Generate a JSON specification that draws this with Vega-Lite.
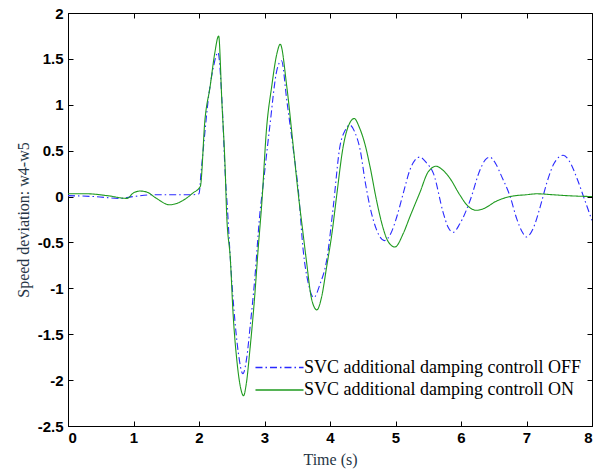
{
  "$schema": "https://vega.github.io/schema/vega-lite/v6.json",
  "width": 524,
  "height": 413,
  "autosize": {"type": "none"},
  "padding": {"left": 68, "top": 13, "right": 10, "bottom": 44},
  "background": "white",
  "config": {
    "view": {"stroke": "#000", "strokeWidth": 1},
    "axis": {
      "grid": false,
      "domainColor": "#000",
      "tickColor": "#000",
      "tickSize": -5,
      "labelFont": "Liberation Sans",
      "labelFontWeight": "bold",
      "labelFontSize": 15,
      "labelColor": "#000",
      "labelExpr": "datum.value",
      "titleFont": "Liberation Serif",
      "titleFontWeight": "normal",
      "titleFontSize": 16,
      "titleColor": "#263545"
    }
  },
  "datasets": {
    "curves": [
      {"t": 0, "v": 0.01, "s": "SVC additional damping controll OFF"},
      {"t": 0.4, "v": 0.0, "s": "SVC additional damping controll OFF"},
      {"t": 0.8, "v": -0.02, "s": "SVC additional damping controll OFF"},
      {"t": 1.0, "v": 0.0, "s": "SVC additional damping controll OFF"},
      {"t": 1.3, "v": 0.02, "s": "SVC additional damping controll OFF"},
      {"t": 1.6, "v": 0.02, "s": "SVC additional damping controll OFF"},
      {"t": 1.9, "v": 0.02, "s": "SVC additional damping controll OFF"},
      {"t": 2.0, "v": 0.03, "s": "SVC additional damping controll OFF"},
      {"t": 2.03, "v": 0.25, "s": "SVC additional damping controll OFF"},
      {"t": 2.09, "v": 0.7, "s": "SVC additional damping controll OFF"},
      {"t": 2.14, "v": 1.05, "s": "SVC additional damping controll OFF"},
      {"t": 2.22, "v": 1.41, "s": "SVC additional damping controll OFF"},
      {"t": 2.29, "v": 1.57, "s": "SVC additional damping controll OFF"},
      {"t": 2.35, "v": 1.05, "s": "SVC additional damping controll OFF"},
      {"t": 2.4, "v": 0.25, "s": "SVC additional damping controll OFF"},
      {"t": 2.44, "v": -0.2, "s": "SVC additional damping controll OFF"},
      {"t": 2.47, "v": -0.58, "s": "SVC additional damping controll OFF"},
      {"t": 2.53, "v": -1.2, "s": "SVC additional damping controll OFF"},
      {"t": 2.6, "v": -1.7, "s": "SVC additional damping controll OFF"},
      {"t": 2.67, "v": -1.93, "s": "SVC additional damping controll OFF"},
      {"t": 2.73, "v": -1.75, "s": "SVC additional damping controll OFF"},
      {"t": 2.78, "v": -1.42, "s": "SVC additional damping controll OFF"},
      {"t": 2.85, "v": -0.91, "s": "SVC additional damping controll OFF"},
      {"t": 2.93, "v": -0.18, "s": "SVC additional damping controll OFF"},
      {"t": 2.98, "v": 0.13, "s": "SVC additional damping controll OFF"},
      {"t": 3.08, "v": 0.76, "s": "SVC additional damping controll OFF"},
      {"t": 3.19, "v": 1.38, "s": "SVC additional damping controll OFF"},
      {"t": 3.26, "v": 1.48, "s": "SVC additional damping controll OFF"},
      {"t": 3.34, "v": 1.05, "s": "SVC additional damping controll OFF"},
      {"t": 3.44, "v": 0.51, "s": "SVC additional damping controll OFF"},
      {"t": 3.52, "v": 0.04, "s": "SVC additional damping controll OFF"},
      {"t": 3.59, "v": -0.58, "s": "SVC additional damping controll OFF"},
      {"t": 3.67, "v": -0.95, "s": "SVC additional damping controll OFF"},
      {"t": 3.75, "v": -1.1, "s": "SVC additional damping controll OFF"},
      {"t": 3.85, "v": -0.95, "s": "SVC additional damping controll OFF"},
      {"t": 3.95, "v": -0.69, "s": "SVC additional damping controll OFF"},
      {"t": 4.05, "v": -0.11, "s": "SVC additional damping controll OFF"},
      {"t": 4.15, "v": 0.54, "s": "SVC additional damping controll OFF"},
      {"t": 4.23, "v": 0.72, "s": "SVC additional damping controll OFF"},
      {"t": 4.3, "v": 0.78, "s": "SVC additional damping controll OFF"},
      {"t": 4.38, "v": 0.7, "s": "SVC additional damping controll OFF"},
      {"t": 4.46, "v": 0.51, "s": "SVC additional damping controll OFF"},
      {"t": 4.54, "v": 0.15, "s": "SVC additional damping controll OFF"},
      {"t": 4.61, "v": -0.11, "s": "SVC additional damping controll OFF"},
      {"t": 4.71, "v": -0.36, "s": "SVC additional damping controll OFF"},
      {"t": 4.83, "v": -0.48, "s": "SVC additional damping controll OFF"},
      {"t": 4.93, "v": -0.4, "s": "SVC additional damping controll OFF"},
      {"t": 5.02, "v": -0.22, "s": "SVC additional damping controll OFF"},
      {"t": 5.12, "v": 0.04, "s": "SVC additional damping controll OFF"},
      {"t": 5.22, "v": 0.29, "s": "SVC additional damping controll OFF"},
      {"t": 5.3, "v": 0.4, "s": "SVC additional damping controll OFF"},
      {"t": 5.37, "v": 0.43, "s": "SVC additional damping controll OFF"},
      {"t": 5.47, "v": 0.37, "s": "SVC additional damping controll OFF"},
      {"t": 5.58, "v": 0.25, "s": "SVC additional damping controll OFF"},
      {"t": 5.73, "v": -0.18, "s": "SVC additional damping controll OFF"},
      {"t": 5.8, "v": -0.33, "s": "SVC additional damping controll OFF"},
      {"t": 5.88, "v": -0.39, "s": "SVC additional damping controll OFF"},
      {"t": 5.98, "v": -0.3, "s": "SVC additional damping controll OFF"},
      {"t": 6.14, "v": -0.04, "s": "SVC additional damping controll OFF"},
      {"t": 6.29, "v": 0.29, "s": "SVC additional damping controll OFF"},
      {"t": 6.37, "v": 0.4, "s": "SVC additional damping controll OFF"},
      {"t": 6.44, "v": 0.43, "s": "SVC additional damping controll OFF"},
      {"t": 6.52, "v": 0.37, "s": "SVC additional damping controll OFF"},
      {"t": 6.62, "v": 0.22, "s": "SVC additional damping controll OFF"},
      {"t": 6.75, "v": 0.0, "s": "SVC additional damping controll OFF"},
      {"t": 6.85, "v": -0.24, "s": "SVC additional damping controll OFF"},
      {"t": 6.93, "v": -0.38, "s": "SVC additional damping controll OFF"},
      {"t": 7.0, "v": -0.44, "s": "SVC additional damping controll OFF"},
      {"t": 7.1, "v": -0.35, "s": "SVC additional damping controll OFF"},
      {"t": 7.21, "v": -0.11, "s": "SVC additional damping controll OFF"},
      {"t": 7.31, "v": 0.15, "s": "SVC additional damping controll OFF"},
      {"t": 7.42, "v": 0.36, "s": "SVC additional damping controll OFF"},
      {"t": 7.56, "v": 0.45, "s": "SVC additional damping controll OFF"},
      {"t": 7.66, "v": 0.38, "s": "SVC additional damping controll OFF"},
      {"t": 7.77, "v": 0.2, "s": "SVC additional damping controll OFF"},
      {"t": 7.89, "v": -0.04, "s": "SVC additional damping controll OFF"},
      {"t": 8.0, "v": -0.26, "s": "SVC additional damping controll OFF"},
      {"t": 0, "v": 0.03, "s": "SVC additional damping controll ON"},
      {"t": 0.3, "v": 0.03, "s": "SVC additional damping controll ON"},
      {"t": 0.6, "v": 0.01, "s": "SVC additional damping controll ON"},
      {"t": 0.9, "v": -0.02, "s": "SVC additional damping controll ON"},
      {"t": 1.0, "v": 0.04, "s": "SVC additional damping controll ON"},
      {"t": 1.1, "v": 0.06, "s": "SVC additional damping controll ON"},
      {"t": 1.2, "v": 0.05, "s": "SVC additional damping controll ON"},
      {"t": 1.35, "v": -0.02, "s": "SVC additional damping controll ON"},
      {"t": 1.55, "v": -0.09, "s": "SVC additional damping controll ON"},
      {"t": 1.71, "v": -0.06, "s": "SVC additional damping controll ON"},
      {"t": 1.91, "v": 0.04, "s": "SVC additional damping controll ON"},
      {"t": 2.02, "v": 0.11, "s": "SVC additional damping controll ON"},
      {"t": 2.09, "v": 0.83, "s": "SVC additional damping controll ON"},
      {"t": 2.17, "v": 1.2, "s": "SVC additional damping controll ON"},
      {"t": 2.24, "v": 1.56, "s": "SVC additional damping controll ON"},
      {"t": 2.3, "v": 1.75, "s": "SVC additional damping controll ON"},
      {"t": 2.35, "v": 1.02, "s": "SVC additional damping controll ON"},
      {"t": 2.4, "v": 0.29, "s": "SVC additional damping controll ON"},
      {"t": 2.42, "v": -0.15, "s": "SVC additional damping controll ON"},
      {"t": 2.48, "v": -0.7, "s": "SVC additional damping controll ON"},
      {"t": 2.52, "v": -1.27, "s": "SVC additional damping controll ON"},
      {"t": 2.58, "v": -1.8, "s": "SVC additional damping controll ON"},
      {"t": 2.64, "v": -2.1, "s": "SVC additional damping controll ON"},
      {"t": 2.68, "v": -2.17, "s": "SVC additional damping controll ON"},
      {"t": 2.72, "v": -2.05, "s": "SVC additional damping controll ON"},
      {"t": 2.78, "v": -1.65, "s": "SVC additional damping controll ON"},
      {"t": 2.85, "v": -1.09, "s": "SVC additional damping controll ON"},
      {"t": 2.9, "v": -0.6, "s": "SVC additional damping controll ON"},
      {"t": 2.96, "v": -0.06, "s": "SVC additional damping controll ON"},
      {"t": 3.03, "v": 0.73, "s": "SVC additional damping controll ON"},
      {"t": 3.11, "v": 1.2, "s": "SVC additional damping controll ON"},
      {"t": 3.19, "v": 1.56, "s": "SVC additional damping controll ON"},
      {"t": 3.24, "v": 1.66, "s": "SVC additional damping controll ON"},
      {"t": 3.34, "v": 1.2, "s": "SVC additional damping controll ON"},
      {"t": 3.44, "v": 0.54, "s": "SVC additional damping controll ON"},
      {"t": 3.52, "v": 0.0, "s": "SVC additional damping controll ON"},
      {"t": 3.58, "v": -0.35, "s": "SVC additional damping controll ON"},
      {"t": 3.64, "v": -0.7, "s": "SVC additional damping controll ON"},
      {"t": 3.72, "v": -1.12, "s": "SVC additional damping controll ON"},
      {"t": 3.8, "v": -1.235, "s": "SVC additional damping controll ON"},
      {"t": 3.87, "v": -1.1, "s": "SVC additional damping controll ON"},
      {"t": 3.95, "v": -0.76, "s": "SVC additional damping controll ON"},
      {"t": 4.03, "v": -0.4, "s": "SVC additional damping controll ON"},
      {"t": 4.1, "v": 0.0, "s": "SVC additional damping controll ON"},
      {"t": 4.2, "v": 0.54, "s": "SVC additional damping controll ON"},
      {"t": 4.3, "v": 0.8, "s": "SVC additional damping controll ON"},
      {"t": 4.37, "v": 0.85, "s": "SVC additional damping controll ON"},
      {"t": 4.45, "v": 0.75, "s": "SVC additional damping controll ON"},
      {"t": 4.53, "v": 0.58, "s": "SVC additional damping controll ON"},
      {"t": 4.61, "v": 0.33, "s": "SVC additional damping controll ON"},
      {"t": 4.71, "v": -0.04, "s": "SVC additional damping controll ON"},
      {"t": 4.79, "v": -0.29, "s": "SVC additional damping controll ON"},
      {"t": 4.88, "v": -0.48, "s": "SVC additional damping controll ON"},
      {"t": 4.99, "v": -0.55, "s": "SVC additional damping controll ON"},
      {"t": 5.12, "v": -0.4, "s": "SVC additional damping controll ON"},
      {"t": 5.22, "v": -0.22, "s": "SVC additional damping controll ON"},
      {"t": 5.37, "v": 0.04, "s": "SVC additional damping controll ON"},
      {"t": 5.5, "v": 0.27, "s": "SVC additional damping controll ON"},
      {"t": 5.62, "v": 0.33, "s": "SVC additional damping controll ON"},
      {"t": 5.72, "v": 0.29, "s": "SVC additional damping controll ON"},
      {"t": 5.83, "v": 0.2, "s": "SVC additional damping controll ON"},
      {"t": 5.98, "v": 0.02, "s": "SVC additional damping controll ON"},
      {"t": 6.1, "v": -0.1, "s": "SVC additional damping controll ON"},
      {"t": 6.24, "v": -0.15, "s": "SVC additional damping controll ON"},
      {"t": 6.35, "v": -0.13, "s": "SVC additional damping controll ON"},
      {"t": 6.54, "v": -0.05, "s": "SVC additional damping controll ON"},
      {"t": 6.75, "v": 0.0, "s": "SVC additional damping controll ON"},
      {"t": 7.0, "v": 0.02, "s": "SVC additional damping controll ON"},
      {"t": 7.16, "v": 0.03, "s": "SVC additional damping controll ON"},
      {"t": 7.4, "v": 0.02, "s": "SVC additional damping controll ON"},
      {"t": 7.61, "v": 0.01, "s": "SVC additional damping controll ON"},
      {"t": 8.0, "v": 0.0, "s": "SVC additional damping controll ON"}
    ]
  },
  "data": {"name": "curves"},
  "layer": [
    {
      "mark": {"type": "line", "strokeWidth": 1.1, "clip": true, "interpolate": "monotone"},
      "encoding": {
        "x": {
          "field": "t", "type": "quantitative",
          "scale": {"domain": [0, 8], "nice": false, "zero": false},
          "axis": {"title": "Time (s)", "values": [0,1,2,3,4,5,6,7,8], "labelPadding": 9, "titlePadding": 6}
        },
        "y": {
          "field": "v", "type": "quantitative",
          "scale": {"domain": [-2.5, 2], "nice": false, "zero": false},
          "axis": {"title": "Speed deviation: w4-w5", "values": [-2.5,-2,-1.5,-1,-0.5,0,0.5,1,1.5,2], "labelPadding": 10, "titlePadding": 6}
        },
        "color": {
          "field": "s", "type": "nominal",
          "scale": {"domain": ["SVC additional damping controll OFF", "SVC additional damping controll ON"], "range": ["#2a2aff", "#1f9a1f"]},
          "legend": {
            "title": null,
            "orient": "none",
            "legendX": 201,
            "legendY": 344,
            "symbolType": "M-2.5,0H2.5",
            "symbolSize": 369,
            "symbolStrokeWidth": 1.3,
            "labelFont": "Liberation Serif",
            "labelFontSize": 18,
            "labelColor": "#000",
            "labelOffset": 14,
            "rowPadding": 2.5,
            "padding": 0,
            "labelLimit": 400
          }
        },
        "strokeDash": {
          "field": "s", "type": "nominal",
          "scale": {"domain": ["SVC additional damping controll OFF", "SVC additional damping controll ON"], "range": [[7, 3, 1.5, 3], [1, 0]]},
          "legend": null
        }
      }
    },
    {
      "mark": {"type": "rule", "opacity": 0},
      "encoding": {
        "x": {
          "field": "t", "type": "quantitative",
          "axis": {"orient": "top", "labels": false, "title": null, "domain": false, "values": [0,1,2,3,4,5,6,7,8]}
        },
        "y": {
          "field": "v", "type": "quantitative",
          "axis": {"orient": "right", "labels": false, "title": null, "domain": false, "values": [-2.5,-2,-1.5,-1,-0.5,0,0.5,1,1.5,2]}
        }
      }
    }
  ],
  "resolve": {"axis": {"x": "independent", "y": "independent"}}
}
